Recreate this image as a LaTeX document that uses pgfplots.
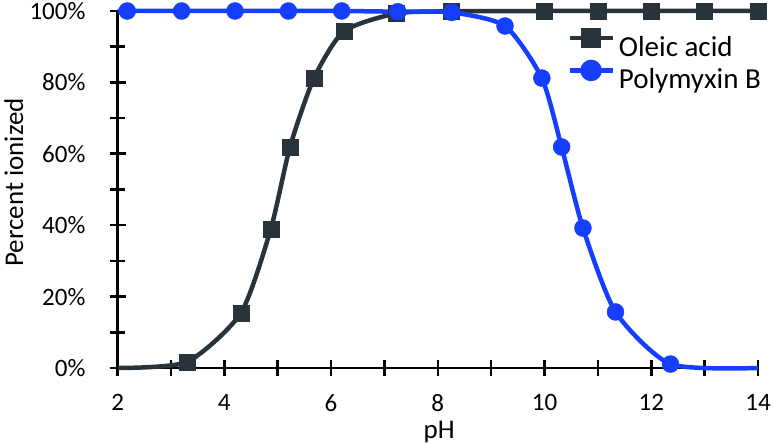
\documentclass[border=0pt]{standalone}
\usepackage{fontspec}
\setmainfont{Carlito}
\usepackage{pgfplots}
\pgfplotsset{compat=1.18}
\definecolor{oleic}{RGB}{40,52,58}
\definecolor{poly}{RGB}{22,62,255}
\begin{document}
\begin{tikzpicture}
\path[use as bounding box] (-117.6pt,-76pt) rectangle (656.4pt,368pt);
\begin{axis}[
  at={(0,0)}, anchor=south west,
  scale only axis, width=640.4pt, height=357pt,
  xmin=2, xmax=14, ymin=0, ymax=100,
  clip=false,
  font=\fontsize{25}{30}\selectfont,
  axis x line=bottom, axis y line=left,
  axis line style={-, line width=2.8pt, black},
  xtick={2,4,...,14}, ytick={0,20,...,100},
  xticklabels={2,4,6,8,10,12,14},
  yticklabels={0\%,20\%,40\%,60\%,80\%,100\%},
  minor x tick num=1, minor y tick num=1,
  tick align=center,
  major tick length=16pt, minor tick length=15pt,
  tick style={black, line width=2.6pt},
  xticklabel style={font=\fontsize{25}{30}\selectfont, anchor=north, inner sep=0pt, text depth=0pt, yshift=-18pt},
  yticklabel style={font=\fontsize{25}{30}\selectfont, anchor=east, inner sep=0pt, xshift=-24pt},
  xlabel={pH}, ylabel={Percent ionized},
  label style={font=\fontsize{27}{32}\selectfont, inner sep=0pt},
  xlabel style={at={(axis description cs:0.502,-0.1975)}, anchor=base},
  ylabel style={at={(axis description cs:-0.1477,0.52)}, anchor=base, rotate=0},
  legend style={at={(axis description cs:0.702,0.947)}, anchor=north west,
    draw=none, fill=none, font=\fontsize{29}{34}\selectfont,
    inner sep=0pt, row sep=2pt, column sep=2pt,
    nodes={inner sep=2pt}},
  legend cell align=left,
  legend image code/.code={%
    \draw[#1, mark=none] (0pt,9pt) -- (43pt,9pt);
    \draw[#1] plot coordinates {(21.5pt,9pt)};},
]
% Oleic acid: curve and markers
\addplot[oleic, line width=4.5pt, smooth, tension=0.4, mark=none, forget plot]
  coordinates {(2,0) (3.3,1.7) (4.31,15.4) (4.87,38.9) (5.23,61.9) (5.68,81.2)
  (6.24,94.3) (7.22,99.3) (8.25,99.9) (10,100) (11,100) (12,100) (13,100) (14,100)};
\addplot[oleic, only marks, mark=square*, mark size=8pt, forget plot]
  coordinates {(3.3,1.7) (4.31,15.4) (4.87,38.9) (5.23,61.9) (5.68,81.2)
  (6.24,94.3) (7.22,99.3) (8.25,99.9) (10,100) (11,100) (12,100) (13,100) (14,100)};
% Polymyxin B: curve and markers
\addplot[poly, line width=4.5pt, smooth, tension=0.4, mark=none, forget plot]
  coordinates {(2,100) (2.18,100) (3.2,100) (4.2,100) (5.2,100) (6.2,100) (7.25,99.8)
  (8.26,99.6) (9.26,95.8) (9.95,81.2) (10.32,61.9) (10.72,39.2) (11.33,15.7)
  (12.36,1.1) (14,0)};
\addplot[poly, only marks, mark=*, mark size=8.5pt, forget plot]
  coordinates {(2.18,100) (3.2,100) (4.2,100) (5.2,100) (6.2,100) (7.25,99.8)
  (8.26,99.6) (9.26,95.8) (9.95,81.2) (10.32,61.9) (10.72,39.2) (11.33,15.7)
  (12.36,1.1)};
\addlegendimage{oleic, line width=4.5pt, mark=square*, mark size=8pt}
\addlegendentry{Oleic acid}
\addlegendimage{poly, line width=4.5pt, mark=*, mark size=8.5pt}
\addlegendentry{Polymyxin B}
\end{axis}
\end{tikzpicture}
\end{document}
